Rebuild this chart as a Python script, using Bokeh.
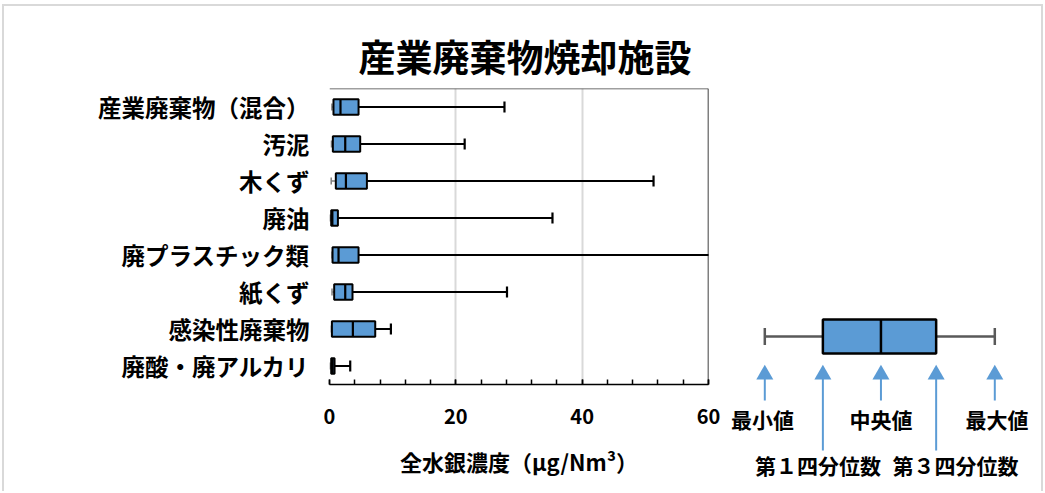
from bokeh.plotting import figure
from bokeh.models import Range1d, FactorRange, FixedTicker, Span, Spacer
from bokeh.layouts import row, column
from bokeh.embed import file_html
from bokeh.resources import INLINE
from bokeh.core.properties import value

# ---------------- data ----------------
categories = ["産業廃棄物（混合）", "汚泥", "木くず", "廃油", "廃プラスチック類",
              "紙くず", "感染性廃棄物", "廃酸・廃アルカリ"]
mins = [0.38, 0.32, 0.27, 0.10, 0.40, 0.40, 0.30, 0.10]
q1s = [0.63, 0.53, 1.00, 0.27, 0.48, 0.74, 0.38, 0.27]
medians = [1.74, 2.49, 2.60, 0.45, 1.43, 2.49, 3.70, 0.50]
q3s = [4.60, 4.86, 5.92, 1.33, 4.60, 3.64, 7.24, 0.80]
maxs = [27.7, 21.4, 51.3, 35.3, 80.0, 28.1, 9.72, 3.28]

x_ticks = [0, 20, 40, 60]
x_minor = [0, 4, 8, 12, 16, 20, 24, 28, 32, 36, 40, 44, 48, 52, 56, 60]

title_text = "産業廃棄物焼却施設"
x_label = "全水銀濃度（μg/Nm³）"

# legend example box (min, Q1, median, Q3, max)
legend_stats = [0.0, 1.01, 2.02, 2.98, 4.0]
legend_labels_top = ["最小値", "中央値", "最大値"]
legend_labels_top_x = [-0.04, 2.02, 4.04]
legend_labels_bottom = ["第１四分位数", "第３四分位数"]
legend_labels_bottom_x = [0.925, 3.317]

FONT = "Noto Sans CJK JP"
BLUE = "#5b9bd5"
OX, OY = 4, 6  # page offset of the content (margin + border)

# ---------------- main chart ----------------
p = figure(width=719, height=485,
           x_range=Range1d(0, 60),
           y_range=FactorRange(factors=list(reversed(categories))),
           toolbar_location=None, output_backend="svg",
           min_border_left=329 - OX, min_border_right=15,
           min_border_top=88 - OY, min_border_bottom=485 - (88 - OY) - 296)
p.outline_line_color = None
p.background_fill_color = "white"
p.border_fill_color = "white"

p.title.text = title_text
p.title.align = "left"
p.title.offset = 29
p.title.text_font = FONT
p.title.text_font_size = "37px"
p.title.text_font_style = "bold"
p.title.text_color = "black"
p.title.standoff = 11

# grid
p.ygrid.grid_line_color = None
p.xgrid.grid_line_color = "#d9d9d9"
p.xgrid.grid_line_width = 2

# x axis
p.xaxis.ticker = FixedTicker(ticks=x_ticks, minor_ticks=x_minor)
p.xaxis.axis_line_color = "black"
p.xaxis.axis_line_width = 1.5
p.xaxis.major_tick_in = 5
p.xaxis.major_tick_out = 0
p.xaxis.minor_tick_in = 5
p.xaxis.minor_tick_out = 0
p.xaxis.major_tick_line_color = "black"
p.xaxis.major_tick_line_width = 1.5
p.xaxis.minor_tick_line_color = "black"
p.xaxis.minor_tick_line_width = 1.5
p.xaxis.major_label_text_font = FONT
p.xaxis.major_label_text_font_size = "20px"
p.xaxis.major_label_text_font_style = "bold"
p.xaxis.major_label_text_color = "black"
p.xaxis.major_label_standoff = 24
p.xaxis.axis_label = x_label
p.xaxis.axis_label_text_font = FONT
p.xaxis.axis_label_text_font_size = "22px"
p.xaxis.axis_label_text_font_style = "bold"
p.xaxis.axis_label_text_color = "black"
p.xaxis.axis_label_standoff = 18

# y axis
p.yaxis.axis_line_color = None
p.yaxis.major_tick_line_color = None
p.yaxis.minor_tick_line_color = None
p.yaxis.major_tick_out = 0
p.yaxis.major_tick_in = 0
p.yaxis.major_label_text_font = FONT
p.yaxis.major_label_text_font_size = "23.5px"
p.yaxis.major_label_text_font_style = "bold"
p.yaxis.major_label_text_color = "black"
p.yaxis.major_label_standoff = 20

# frame borders (right and top)
p.add_layout(Span(location=60, dimension="height", line_color="black", line_width=1.5))
p.add_layout(Span(location=len(categories), dimension="width", line_color="#404040", line_width=1.5))

# lower whiskers (grey)
p.segment(x0=mins, y0=categories, x1=q1s, y1=categories, line_color="#7f7f7f", line_width=1.5)
p.rect(x=mins, y=categories, width=1.5, height=7, width_units="screen", height_units="screen",
       fill_color="#7f7f7f", line_color=None)
# upper whiskers
p.segment(x0=q3s, y0=categories, x1=maxs, y1=categories, line_color="black", line_width=2)
p.rect(x=maxs, y=categories, width=2.2, height=11, width_units="screen", height_units="screen",
       fill_color="black", line_color=None)
# boxes
p.hbar(y=categories, left=q1s, right=q3s, height=0.42, fill_color=BLUE,
       line_color="black", line_width=2)
# medians
p.rect(x=medians, y=categories, width=2.2, height=0.42, width_units="screen",
       fill_color="black", line_color=None)

# ---------------- legend diagram ----------------
# page x = 723 .. 1041 ; page y = 7 .. 491 (y range expressed in page pixels)
LX0 = OX + 719
LW = 318
x0 = (LX0 - 764.3) / 57.5
q = figure(width=LW, height=484,
           x_range=Range1d(x0, x0 + LW / 57.5), y_range=Range1d(491, 7),
           toolbar_location=None, output_backend="svg",
           x_axis_location=None, y_axis_location=None, min_border=0)
q.grid.visible = False
q.outline_line_color = None
q.background_fill_color = "white"
q.border_fill_color = "white"

mn, lq, md, uq, mx = legend_stats
box_y = 336
q.segment(x0=[mn, uq], y0=[box_y, box_y], x1=[lq, mx], y1=[box_y, box_y],
          line_color="#595959", line_width=2.5)
q.rect(x=[mn, mx], y=[box_y, box_y], width=2.5, height=17, width_units="screen",
       height_units="screen", fill_color="#595959", line_color=None)
q.quad(left=[lq], right=[uq], top=[319], bottom=[353], fill_color=BLUE,
       line_color="black", line_width=2.5)
q.segment(x0=[md], y0=[319], x1=[md], y1=[353], line_color="black", line_width=2.5)

# arrows
arrow_x = [mn, lq, md, uq, mx]
arrow_end = [400, 450, 400, 450, 400]
q.segment(x0=arrow_x, y0=[378] * 5, x1=arrow_x, y1=arrow_end, line_color=BLUE, line_width=2)
q.scatter(x=arrow_x, y=[374] * 5, marker="triangle", size=17, fill_color=BLUE, line_color=None)

q.text(x=legend_labels_top_x, y=[418] * 3, text=legend_labels_top,
       text_font=value(FONT), text_font_size="21px", text_font_style="bold",
       text_align="center", text_baseline="middle", text_color="black")
q.text(x=legend_labels_bottom_x, y=[464] * 2, text=legend_labels_bottom,
       text_font=value(FONT), text_font_size="21px", text_font_style="bold",
       text_align="center", text_baseline="middle", text_color="black")

edge = "2px solid #d9d9d9"
layout = row(p, column(Spacer(height=1), q, spacing=0), spacing=0,
             styles={"border-top": edge, "border-left": edge, "border-right": edge,
                     "margin-top": "4px", "margin-left": "2px"})
open("out.html", "w").write(file_html(layout, INLINE))
